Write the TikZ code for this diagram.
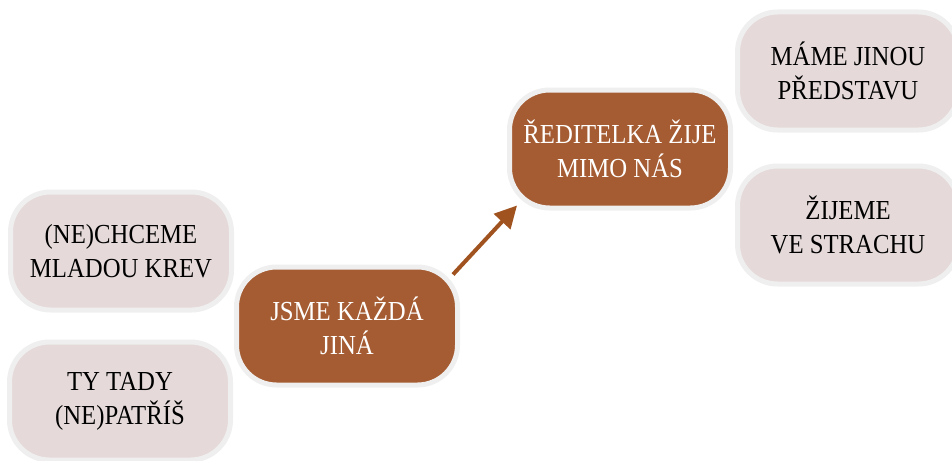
\documentclass[tikz,border=0pt]{standalone}
\usepackage{fontspec}
\setmainfont[FakeStretch=0.9]{Liberation Serif}
\usetikzlibrary{arrows.meta,calc}
\definecolor{brownfill}{HTML}{A55C32}
\definecolor{pinkfill}{HTML}{E5DAD9}
\definecolor{rimgray}{HTML}{EFEFEF}
\definecolor{arrowbrown}{HTML}{A0531F}
\tikzset{
  pill/.style={draw=rimgray, line width=5pt, rounded corners=40pt,
    minimum width=221pt, minimum height=118pt, align=center,
    font=\fontsize{27.5}{34}\selectfont, inner sep=0pt},
  darkpill/.style={pill, fill=brownfill, text=white},
  lightpill/.style={pill, fill=pinkfill, text=black},
  linkarrow/.style={draw=arrowbrown, line width=4pt,
    -{Triangle[length=22pt,width=22pt,fill=arrowbrown]}}
}
\begin{document}
\begin{tikzpicture}[x=1pt,y=-1pt]
\useasboundingbox (0,0) rectangle (952,460);
\node[lightpill] (chceme) at (121,251) {(NE)CHCEME\\MLADOU KREV};
\node[lightpill] (tady) at (120,401) {TY TADY\\(NE)PATŘÍŠ};
\node[darkpill] (jsme) at (347,326) {JSME KAŽDÁ\\JINÁ};
\node[darkpill] (reditelka) at (620,149) {ŘEDITELKA ŽIJE\\MIMO NÁS};
\node[lightpill] (mame) at (848,71) {MÁME JINOU\\PŘEDSTAVU};
\node[lightpill] (zijeme) at (848,225) {ŽIJEME\\VE STRACHU};
\coordinate (from) at ($(jsme.north east)+(-7,10)$);
\coordinate (to) at ($(reditelka.south west)+(10,-5)$);
\draw[linkarrow] (from) -- (to);
\end{tikzpicture}
\end{document}
